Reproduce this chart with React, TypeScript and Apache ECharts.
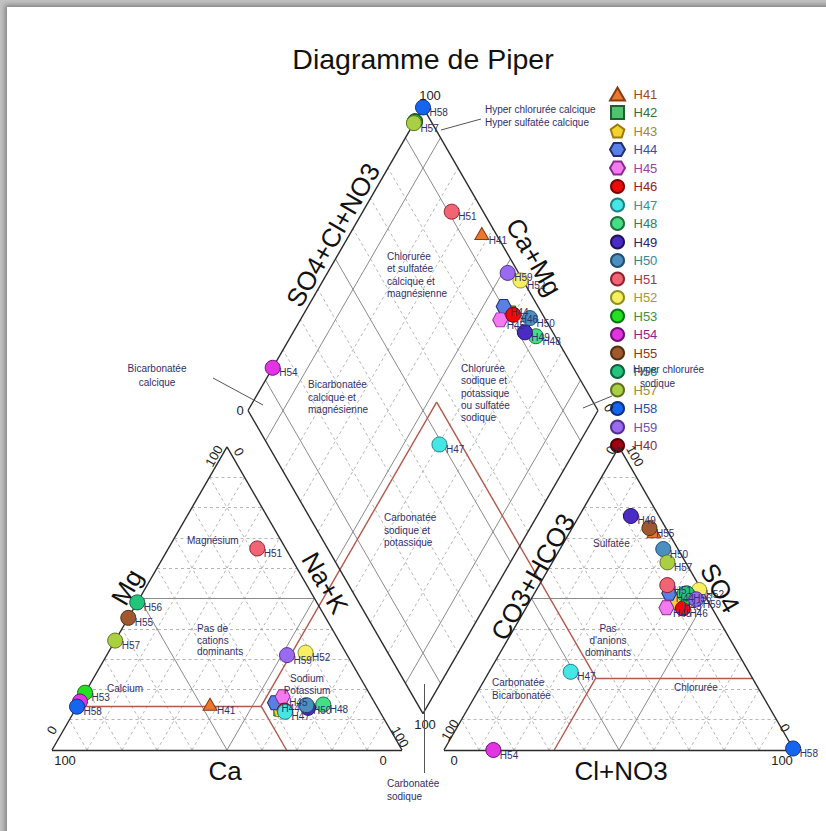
import React, { useEffect, useRef } from "react";
import * as echarts from "echarts";

const PAGE_W = 826;
const PAGE_H = 831;
const FONT = "'Liberation Sans', Arial, Helvetica, sans-serif";
const NAVY = "#30306a";

// ---------------- data ----------------
const sampleNames = ["H41", "H42", "H43", "H44", "H45", "H46", "H47", "H48", "H49", "H50", "H51", "H52", "H53", "H54", "H55", "H56", "H57", "H58", "H59", "H40"];
const sampleShapes = ["triangle", "square", "pentagon", "hexagon", "hexagon", "circle", "circle", "circle", "circle", "circle", "circle", "circle", "circle", "circle", "circle", "circle", "circle", "circle", "circle", "circle"];
const markerColors = ["#e8792f", "#4fc46e", "#f4d22c", "#5a7fe6", "#f47af2", "#ee0a0a", "#44e6e6", "#44df84", "#4a2cc4", "#4a8fc0", "#f06474", "#f7ef62", "#22e022", "#e234e2", "#a0592e", "#22c67a", "#a8d042", "#1466f0", "#9a6af0", "#a00012"];
const markerBorders = ["#8a3a10", "#206030", "#9a7a10", "#203070", "#8a2a8a", "#800000", "#208080", "#207040", "#20105a", "#205070", "#902030", "#909020", "#107010", "#701070", "#503010", "#106040", "#607020", "#103080", "#503090", "#500008"];
const legendTextColors = ["#9a4a22", "#2e7044", "#a08a30", "#3a50a0", "#a040a0", "#902424", "#2e9696", "#2e8060", "#302070", "#2e8a96", "#a03848", "#a09a34", "#3e8e3e", "#902090", "#804020", "#2e8070", "#909040", "#2050a0", "#7050b0", "#803040"];

// cations, % meq
const caPct = [47.3, 28.3, 28.0, 28.5, 25.3, 27.0, 27.1, 15.0, 19.9, 19.9, 8.1, 11.5, 81.1, 84.0, 56.4, 51.3, 63.9, 85.7, 17.2, null];
const mgPct = [15.1, 13.2, 13.5, 15.6, 17.6, 13.0, 12.6, 15.0, 13.9, 14.8, 66.5, 32.1, 18.9, 16.0, 43.6, 48.7, 36.1, 14.3, 31.3, null];
const naKPct = [37.6, 58.5, 58.5, 55.9, 57.1, 60.0, 60.3, 70.0, 66.2, 65.3, 25.4, 56.4, 0.0, 0.0, 0.0, 0.0, 0.0, 0.0, 51.5, null];
// anions, % meq
const hco3Pct = [4.0, 9.0, 9.0, 9.8, 13.0, 8.4, 50.9, 5.5, 8.0, 4.2, 9.0, 0.7, 4.5, 85.9, 4.7, 4.8, 5.2, 0.0, 3.1, null];
const so4Pct = [72.0, 50.0, 49.0, 51.7, 46.9, 46.7, 25.8, 51.5, 77.2, 66.3, 54.4, 52.8, 50.5, 0.0, 73.2, 51.7, 61.9, 0.5, 49.7, null];
const clPct = [24.0, 41.0, 42.0, 38.5, 40.1, 44.9, 23.3, 43.0, 14.8, 29.5, 36.6, 46.5, 45.0, 14.1, 22.1, 43.5, 32.9, 99.5, 47.2, null];

// classification boundaries (red lines), %
const redCationMg = 14.5;
const redCationNaK = 52.5;
const redAnionSo4 = 23.8;
const redAnionCl = 31.5;

// grid steps
const gridSteps = [10, 20, 30, 40, 50, 60, 70, 80, 90];
const triangleSolidSteps = [50];
const diamondSolidSteps = [10, 50, 90];

// ---------------- geometry (diagram units: triangle side = 100) ----------------
const H = Math.sqrt(3) / 2;
const GAP = 12;
const OX = 52; // px of unit x = 0
const OY = 750; // px of unit y = 0
const S = 3.5; // px per unit
const COVER_PX = 7; // a marker this close under a later one is hidden, so is its label

const cationXY = (ca: number, mg: number, na: number) => {
  const t = ca + mg + na;
  const m = (mg / t) * 100;
  const n = (na / t) * 100;
  return [n + m / 2, m * H];
};
const anionXY = (hc: number, so: number, cl: number) => {
  const t = hc + so + cl;
  const s = (so / t) * 100;
  const c = (cl / t) * 100;
  return [100 + GAP + c + s / 2, s * H];
};
const diamondXY = (caMg: number, so4cl: number) => [
  100 + GAP / 2 - caMg / 2 + so4cl / 2,
  GAP * H + (caMg + so4cl) * H,
];

const SYMBOLS: Record<string, string> = {
  circle: "circle",
  triangle: "path://M0,-10L11.5,10L-11.5,10Z",
  square: "path://M-1,-1L1,-1L1,1L-1,1Z",
  pentagon: "path://M0,-1L0.951,-0.309L0.588,0.809L-0.588,0.809L-0.951,-0.309Z",
  hexagon: "path://M1,0L0.5,0.866L-0.5,0.866L-1,0L-0.5,-0.866L0.5,-0.866Z",
};
const SYMBOL_SIZE: Record<string, number | number[]> = {
  circle: 15,
  triangle: [14, 12],
  square: 12,
  pentagon: 15,
  hexagon: [15, 14],
};

function samplePoints(i: number): number[][] {
  const ca = caPct[i], mg = mgPct[i], na = naKPct[i];
  const hc = hco3Pct[i], so = so4Pct[i], cl = clPct[i];
  if (ca == null || mg == null || na == null || hc == null || so == null || cl == null) return [];
  const tc = ca + mg + na;
  const ta = hc + so + cl;
  return [
    cationXY(ca, mg, na),
    anionXY(hc, so, cl),
    diamondXY(((ca + mg) / tc) * 100, ((so + cl) / ta) * 100),
  ];
}

function buildOption() {
  const seg = (a: number[], b: number[]) => ({ coords: [a, b] });
  const dashed: any[] = [];
  const solid: any[] = [];
  const outline: any[] = [];
  const red: any[] = [];

  gridSteps.forEach((v) => {
    const t = triangleSolidSteps.includes(v) ? solid : dashed;
    t.push(seg(cationXY(100 - v, v, 0), cationXY(0, v, 100 - v)));
    t.push(seg(cationXY(v, 0, 100 - v), cationXY(v, 100 - v, 0)));
    t.push(seg(cationXY(100 - v, 0, v), cationXY(0, 100 - v, v)));
    t.push(seg(anionXY(100 - v, v, 0), anionXY(0, v, 100 - v)));
    t.push(seg(anionXY(v, 0, 100 - v), anionXY(v, 100 - v, 0)));
    t.push(seg(anionXY(100 - v, 0, v), anionXY(0, 100 - v, v)));
    const d = diamondSolidSteps.includes(v) ? solid : dashed;
    d.push(seg(diamondXY(v, 0), diamondXY(v, 100)));
    d.push(seg(diamondXY(0, v), diamondXY(100, v)));
  });

  const cA = cationXY(100, 0, 0), cB = cationXY(0, 0, 100), cC = cationXY(0, 100, 0);
  const aA = anionXY(100, 0, 0), aB = anionXY(0, 0, 100), aC = anionXY(0, 100, 0);
  const dB = diamondXY(0, 0), dL = diamondXY(100, 0), dT = diamondXY(100, 100), dR = diamondXY(0, 100);
  outline.push(seg(cA, cB), seg(cB, cC), seg(cC, cA));
  outline.push(seg(aA, aB), seg(aB, aC), seg(aC, aA));
  outline.push(seg(dB, dL), seg(dL, dT), seg(dT, dR), seg(dR, dB));

  const j1 = cationXY(100 - redCationMg - redCationNaK, redCationMg, redCationNaK);
  const apex = diamondXY(100 - redCationNaK, redAnionSo4 + redAnionCl);
  const j2 = anionXY(100 - redAnionSo4 - redAnionCl, redAnionSo4, redAnionCl);
  red.push(seg(cationXY(100 - redCationMg, redCationMg, 0), j1));
  red.push(seg(cationXY(100 - redCationMg - redCationNaK, 0, redCationMg + redCationNaK), j1));
  red.push(seg(j1, apex));
  red.push(seg(apex, j2));
  red.push(seg(anionXY(100 - redAnionCl, 0, redAnionCl), j2));
  red.push(seg(j2, anionXY(0, redAnionSo4, 100 - redAnionSo4)));

  const linesSeries = (data: any[], style: any, z: number) => ({
    type: "lines",
    coordinateSystem: "cartesian2d",
    silent: true,
    z,
    polyline: false,
    lineStyle: { opacity: 1, ...style },
    data,
  });

  const allPoints = sampleNames.map((_, i) => samplePoints(i));
  const coveredLater = (i: number, p: number[]) => {
    for (let k = i + 1; k < allPoints.length; k++) {
      for (const q of allPoints[k]) {
        const d = Math.hypot((p[0] - q[0]) * S, (p[1] - q[1]) * S);
        if (d < COVER_PX) return true;
      }
    }
    return false;
  };

  const scatterSeries = sampleNames.map((name, i) => {
    const shape = sampleShapes[i];
    const data = allPoints[i].map((p) => ({
      value: p,
      label: { show: !coveredLater(i, p) },
    }));
    return {
      type: "scatter",
      name,
      symbol: SYMBOLS[shape],
      symbolSize: SYMBOL_SIZE[shape],
      z: 5,
      itemStyle: { color: markerColors[i], borderColor: markerBorders[i], borderWidth: 1, opacity: 1 },
      label: {
        show: true,
        formatter: name,
        position: [14.5, 13],
        align: "left",
        verticalAlign: "middle",
        fontSize: 10,
        fontFamily: FONT,
        color: NAVY,
      },
      emphasis: { disabled: true },
      data,
    };
  });

  const txt = (x: number, y: number, text: string, o: any = {}) => ({
    type: "text",
    x,
    y,
    rotation: o.rotation || 0,
    silent: true,
    z: 10,
    style: {
      text,
      fontSize: o.size || 10,
      fontFamily: FONT,
      fill: o.color || NAVY,
      align: o.align || "center",
      verticalAlign: "middle",
      lineHeight: o.lh || 12.4,
    },
  });
  const ln = (x1: number, y1: number, x2: number, y2: number) => ({
    type: "line",
    silent: true,
    z: 10,
    shape: { x1, y1, x2, y2 },
    style: { stroke: "#555", lineWidth: 1 },
  });
  const R = Math.PI / 3;
  const TICK = { size: 13, color: "#222" };
  const AX = { size: 26, color: "#111" };

  const graphics = [
    txt(423, 59, "Diagramme de Piper", { size: 28.5, color: "#111" }),
    txt(127, 587, "Mg", { ...AX, rotation: R }),
    txt(225, 771, "Ca", AX),
    txt(325, 583, "Na+K", { ...AX, rotation: -R }),
    txt(533, 577, "CO3+HCO3", { ...AX, rotation: R }),
    txt(720, 588, "SO4", { ...AX, rotation: -R }),
    txt(621, 771, "Cl+NO3", AX),
    txt(333, 235, "SO4+Cl+NO3", { ...AX, rotation: R }),
    txt(534, 257, "Ca+Mg", { ...AX, rotation: -R }),
    txt(214, 456, "100", { ...TICK, rotation: R }),
    txt(239, 452, "0", { ...TICK, rotation: -R }),
    txt(52, 730, "0", { ...TICK, rotation: R }),
    txt(65, 760, "100", TICK),
    txt(383, 760, "0", TICK),
    txt(400, 737, "100", { ...TICK, rotation: -R }),
    txt(611, 450, "0", { ...TICK, rotation: R }),
    txt(635, 456, "100", { ...TICK, rotation: -R }),
    txt(450, 730, "100", { ...TICK, rotation: R }),
    txt(454, 760, "0", TICK),
    txt(782, 760, "100", TICK),
    txt(785, 728, "0", { ...TICK, rotation: -R }),
    txt(430, 95, "100", TICK),
    txt(240, 410, "0", TICK),
    txt(609, 408, "0", { ...TICK, rotation: -R }),
    txt(425, 724, "100", TICK),
    txt(485, 109, "Hyper chlorurée calcique", { align: "left" }),
    txt(485, 122, "Hyper sulfatée calcique", { align: "left" }),
    txt(387, 275, "Chlorurée\net sulfatée\ncalcique et\nmagnésienne", { align: "left" }),
    txt(308, 397, "Bicarbonatée\ncalcique et\nmagnésienne", { align: "left" }),
    txt(461, 393, "Chlorurée\nsodique et\npotassique\nou sulfatée\nsodique", { align: "left" }),
    txt(384, 530, "Carbonatée\nsodique et\npotassique", { align: "left", lh: 12.7 }),
    txt(157, 375, "Bicarbonatée\ncalcique", { lh: 14 }),
    txt(633, 369, "Hyper chlorurée", { align: "left" }),
    txt(640, 383, "sodique", { align: "left" }),
    txt(387, 790, "Carbonatée\nsodique", { align: "left", lh: 13 }),
    txt(187, 540, "Magnésium", { align: "left" }),
    txt(197, 640, "Pas de\ncations\ndominants", { align: "left", lh: 11.7 }),
    txt(107, 688, "Calcium", { align: "left" }),
    txt(307, 684, "Sodium\nPotassium", { lh: 12 }),
    txt(593, 543, "Sulfatée", { align: "left" }),
    txt(608, 640, "Pas\nd'anions\ndominants", { lh: 12 }),
    txt(492, 689, "Carbonatée\nBicarbonatée", { align: "left", lh: 13 }),
    txt(674, 687, "Chlorurée", { align: "left" }),
    ln(441, 130, 481, 119),
    ln(213, 378, 263, 405),
    ln(583, 408, 612, 396),
    ln(424.5, 684, 424.5, 773),
  ];

  return {
    animation: false,
    backgroundColor: "transparent",
    grid: { left: 0, right: 0, top: 0, bottom: 0, containLabel: false },
    xAxis: { type: "value", min: -OX / S, max: (PAGE_W - OX) / S, show: false },
    yAxis: { type: "value", min: -(PAGE_H - OY) / S, max: OY / S, show: false },
    legend: {
      orient: "vertical",
      left: 604,
      top: 81.5,
      itemWidth: 22,
      itemHeight: 13,
      itemGap: 3.5,
      selectedMode: false,
      symbolKeepAspect: true,
      textStyle: { fontSize: 13, fontFamily: FONT },
      data: sampleNames.map((n, i) => ({
        name: n,
        icon: SYMBOLS[sampleShapes[i]],
        textStyle: { color: legendTextColors[i] },
      })),
    },
    graphic: graphics,
    series: [
      linesSeries(dashed, { color: "#a2a2a2", width: 0.8, type: [3, 3] }, 1),
      linesSeries(solid, { color: "#8a8a8a", width: 1 }, 2),
      linesSeries(red, { color: "#b5574a", width: 1.4 }, 3),
      linesSeries(outline, { color: "#2b2b2b", width: 1.4 }, 4),
      ...scatterSeries,
    ],
  };
}

export default function App() {
  const ref = useRef<HTMLDivElement>(null);
  useEffect(() => {
    const chart = echarts.init(ref.current!, null, { renderer: "svg" });
    chart.setOption(buildOption() as any);
    return () => chart.dispose();
  }, []);
  return (
    <div
      style={{
        position: "fixed",
        left: 0,
        top: 0,
        width: PAGE_W,
        height: PAGE_H,
        background: "#c2c2c2",
        overflow: "hidden",
      }}
    >
      <div
        style={{
          position: "absolute",
          left: 7,
          top: 7,
          right: -20,
          bottom: -20,
          background: "#ffffff",
          boxShadow: "0 0 5px 2px rgba(0,0,0,0.35)",
        }}
      />
      <div ref={ref} style={{ position: "absolute", left: 0, top: 0, width: PAGE_W, height: PAGE_H }} />
    </div>
  );
}
